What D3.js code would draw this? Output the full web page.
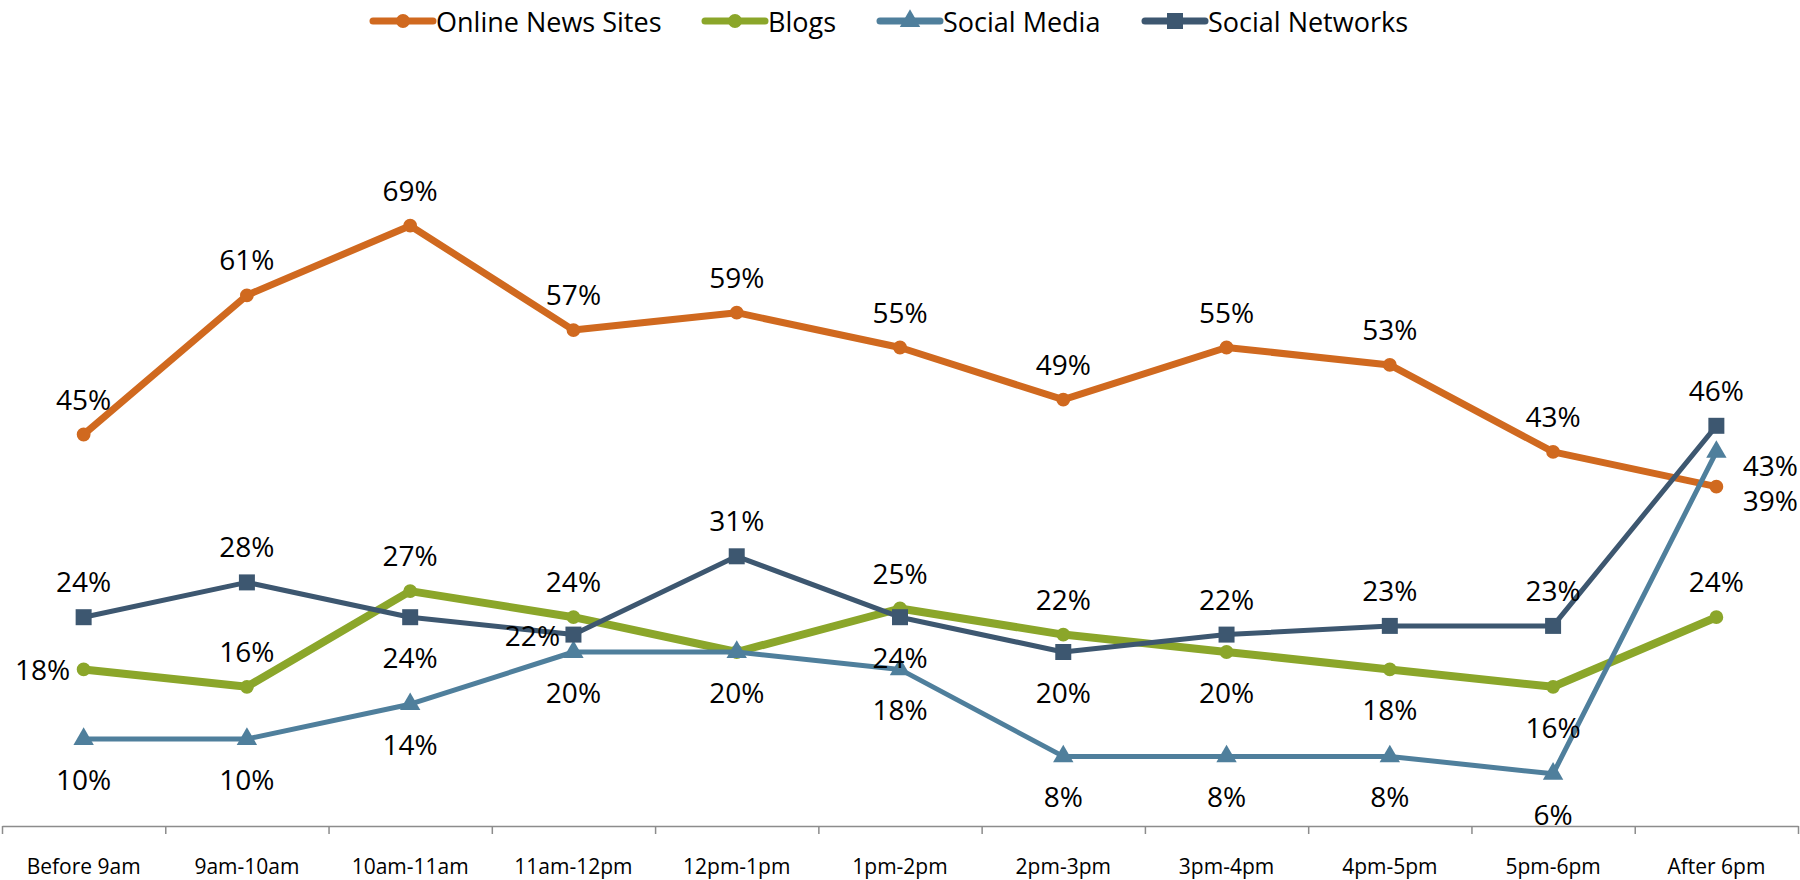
<!DOCTYPE html>
<html>
<head>
<meta charset="utf-8">
<script src="https://cdn.jsdelivr.net/npm/d3@7/dist/d3.min.js"></script>
<style>
  html, body { margin: 0; padding: 0; background: #fff; }
  svg { display: block; }
  text { font-family: "Open Sans", "Noto Sans", sans-serif; fill: #000; }
</style>
</head>
<body>
<svg id="chart" width="1800" height="880"></svg>
<script>
// Time slots along the x axis
const timeSlots = ["Before 9am", "9am-10am", "10am-11am", "11am-12pm", "12pm-1pm",
  "1pm-2pm", "2pm-3pm", "3pm-4pm", "4pm-5pm", "5pm-6pm", "After 6pm"];

// Share of readers (%) for each source per time slot
const onlineNews     = [45, 61, 69, 57, 59, 55, 49, 55, 53, 43, 39];
const blogs          = [18, 16, 27, 24, 20, 25, 22, 20, 18, 16, 24];
const socialMedia    = [10, 10, 14, 20, 20, 18, 8, 8, 8, 6, 43];
const socialNetworks = [24, 28, 24, 22, 31, 24, 20, 22, 23, 23, 46];

// Where each value label sits relative to its point
const onlineNewsLabelPos     = ["above","above","above","above","above","above","above","above","above","above","right"];
const blogsLabelPos          = ["left","above","above","above",null,"above","above","below","below","below","above"];
const socialMediaLabelPos    = ["below","below","below","below","below","below","below","below","below","below","right"];
const socialNetworksLabelPos = ["above","above","below","left","above","below","below","above","above","above","above"];

const series = [
  { name: "Online News Sites", values: onlineNews, pos: onlineNewsLabelPos, color: "#D0691F", width: 7, symbol: d3.symbolCircle, size: 150 },
  { name: "Blogs", values: blogs, pos: blogsLabelPos, color: "#8BA62A", width: 8, symbol: d3.symbolCircle, size: 150 },
  { name: "Social Media", values: socialMedia, pos: socialMediaLabelPos, color: "#4F7F9C", width: 5, symbol: d3.symbolTriangle, size: 180 },
  { name: "Social Networks", values: socialNetworks, pos: socialNetworksLabelPos, color: "#3D5770", width: 5, symbol: d3.symbolSquare, size: 256 }
];

const svg = d3.select("#chart");

const left = 2, right = 1798, axisY = 826;
const x = d3.scalePoint().domain(timeSlots).range([left, right]).padding(0.5);
const tickScale = d3.scaleLinear().domain([0, timeSlots.length]).range([left, right]);
const y = d3.scaleLinear().domain([0, 90]).range([axisY, 43]);

// Category axis: boundary ticks between slots
const axis = d3.axisBottom(tickScale)
  .tickValues(d3.range(0, timeSlots.length + 1))
  .tickFormat("")
  .tickSizeInner(8)
  .tickSizeOuter(0);
const axisG = svg.append("g").attr("transform", `translate(0,${axisY})`).call(axis);
axisG.selectAll("path, line").attr("stroke", "#8c8c8c").attr("stroke-width", 1.5);

svg.append("g").selectAll("text")
  .data(timeSlots)
  .join("text")
  .attr("x", d => x(d))
  .attr("y", 866)
  .attr("text-anchor", "middle")
  .attr("dominant-baseline", "central")
  .style("font-size", "21px")
  .text(d => d);

// Lines, markers and value labels
const line = d3.line().x((d, i) => x(timeSlots[i])).y(d => y(d));

series.forEach(s => {
  const g = svg.append("g");
  g.append("path")
    .attr("d", line(s.values))
    .attr("fill", "none")
    .attr("stroke", s.color)
    .attr("stroke-width", s.width)
    .attr("stroke-linejoin", "round");
  g.selectAll("path.mark")
    .data(s.values)
    .join("path")
    .attr("class", "mark")
    .attr("transform", (d, i) => `translate(${x(timeSlots[i])},${y(d)})`)
    .attr("d", d3.symbol().type(s.symbol).size(s.size))
    .attr("fill", s.color);
});

series.forEach(s => {
  svg.append("g").selectAll("text")
    .data(s.values.map((v, i) => ({ v, i, pos: s.pos[i] })).filter(d => d.pos))
    .join("text")
    .attr("x", d => {
      const px = x(timeSlots[d.i]);
      if (d.pos === "left") return px - 41;
      if (d.pos === "right") return px + 54;
      return px;
    })
    .attr("y", d => {
      const py = y(d.v);
      if (d.pos === "above") return py - 36;
      if (d.pos === "below") return py + 40;
      if (d.pos === "right") return py + 13;
      return py;
    })
    .attr("text-anchor", "middle")
    .attr("dominant-baseline", "central")
    .style("font-size", "28px")
    .text(d => d.v + "%");
});

// Legend
const legendX = [373, 705, 880, 1145];
const legend = svg.append("g");
series.forEach((s, i) => {
  const g = legend.append("g").attr("transform", `translate(${legendX[i]},21)`);
  g.append("line")
    .attr("x1", 0).attr("x2", 60).attr("y1", 0).attr("y2", 0)
    .attr("stroke", s.color).attr("stroke-width", 7).attr("stroke-linecap", "round");
  g.append("path")
    .attr("transform", "translate(30,0)")
    .attr("d", d3.symbol().type(s.symbol).size(s.size))
    .attr("fill", s.color);
  g.append("text")
    .attr("x", 63)
    .attr("y", 0)
    .attr("dominant-baseline", "central")
    .style("font-size", "27px")
    .text(s.name);
});
</script>
</body>
</html>
